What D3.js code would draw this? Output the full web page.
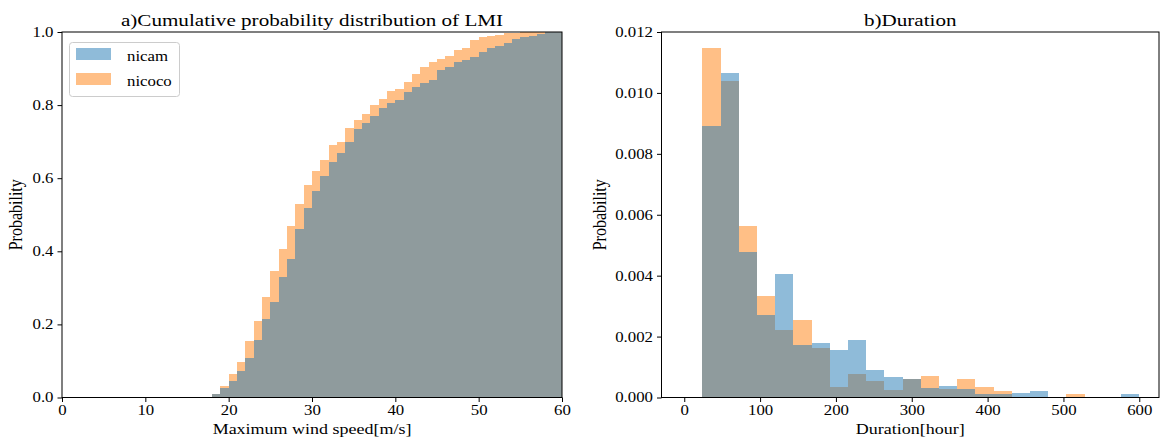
<!DOCTYPE html>
<html><head><meta charset="utf-8">
<script src="https://cdn.jsdelivr.net/npm/d3@7"></script>
<style>
body{margin:0;background:#fff}
text{font-family:"Liberation Serif","Times New Roman",serif;fill:#000}
</style>
</head><body>
<svg id="c" width="1161" height="441"></svg>
<script>
// ---------- data ----------
const lmiBinStart = [17,18,19,20,21,22,23,24,25,26,27,28,29,30,31,32,33,34,35,36,37,38,39,40,41,42,43,44,45,46,47,48,49,50,51,52,53,54,55,56,57,58,59];
const nicamCum  = [0.002,0.009,0.026,0.045,0.073,0.107,0.157,0.214,0.261,0.329,0.379,0.461,0.519,0.565,0.607,0.644,0.670,0.699,0.735,0.750,0.769,0.792,0.807,0.815,0.836,0.850,0.860,0.868,0.897,0.903,0.919,0.924,0.932,0.946,0.955,0.962,0.970,0.982,0.987,0.990,0.995,1.0,1.0];
const nicocoCum = [0.0,0.009,0.031,0.064,0.097,0.155,0.209,0.274,0.346,0.405,0.469,0.530,0.582,0.621,0.649,0.690,0.699,0.738,0.758,0.777,0.801,0.816,0.839,0.845,0.864,0.884,0.905,0.917,0.925,0.933,0.951,0.955,0.979,0.985,0.990,0.993,0.996,0.998,0.999,1.0,1.0,1.0,1.0];
const lmiBinWidth = 1;

const durBinStart = [24,48,72,96,120,144,168,192,216,240,264,288,312,336,360,384,408,432,456,480,504,528,552,576];
const nicamDur  = [0.00891,0.01065,0.00477,0.00272,0.00404,0.00171,0.00178,0.00155,0.00190,0.00090,0.00066,0.00061,0.00030,0.00038,0.00029,0.00010,0.00010,0.00016,0.00022,0,0,0,0,0.00010];
const nicocoDur = [0.01146,0.01038,0.00563,0.00332,0.00222,0.00256,0.00162,0.00035,0.00077,0.00053,0.00026,0.00061,0.00069,0.00029,0.00061,0.00036,0.00020,0,0,0,0.00010,0,0,0];
const durBinWidth = 24;

const seriesNames = ["nicam","nicoco"];
const seriesColors = ["#1f77b4","#ff7f0e"];
const leftTicksX = [0,10,20,30,40,50,60];
const leftTicksY = [0,0.2,0.4,0.6,0.8,1.0];
const rightTicksX = [0,100,200,300,400,500,600];
const rightTicksY = [0,0.002,0.004,0.006,0.008,0.010,0.012];

// ---------- drawing ----------
const SX = 1.2;           // horizontal text stretch seen in reference
const svg = d3.select("#c");
const yTop = 32, yBot = 397.5;

function stretchText(sel){
  sel.each(function(){
    const t = d3.select(this);
    const x = +t.attr("x") || 0, y = +t.attr("y") || 0;
    t.attr("x", null).attr("y", null)
     .attr("transform", `translate(${x},${y}) scale(${SX},1)`);
  });
}

function panel(opts){
  const g = svg.append("g");
  const x = d3.scaleLinear().domain(opts.xDomain).range([opts.x0, opts.x1]);
  const y = d3.scaleLinear().domain(opts.yDomain).range([yBot, yTop]);

  // bars: nicoco first, nicam on top (gray overlap)
  [1,0].forEach(si=>{
    const vals = opts.values[si];
    g.append("g").selectAll("rect")
      .data(opts.bins.map((b,i)=>({b, v: vals[i]})).filter(d=>d.v>0))
      .join("rect")
      .attr("x", d=>x(d.b))
      .attr("width", d=>x(d.b+opts.bw)-x(d.b))
      .attr("y", d=>y(d.v))
      .attr("height", d=>y(0)-y(d.v))
      .attr("fill", seriesColors[si])
      .attr("fill-opacity", 0.5)
      .attr("shape-rendering","crispEdges");
  });

  const ax = g.append("g").attr("transform",`translate(0,${yBot})`)
    .call(d3.axisBottom(x).tickValues(opts.xTicks).tickFormat(opts.xFmt).tickSizeOuter(0).tickSize(4.5).tickPadding(3.5));
  const ay = g.append("g").attr("transform",`translate(${opts.x0},0)`)
    .call(d3.axisLeft(y).tickValues(opts.yTicks).tickFormat(opts.yFmt).tickSizeOuter(0).tickSize(4.5).tickPadding(4));
  [ax,ay].forEach(a=>{
    a.select(".domain").remove();
    a.selectAll("line").attr("stroke","#000").attr("stroke-width",1);
    a.selectAll("text").attr("font-size",14).attr("font-family",'"Liberation Serif",serif').call(stretchText);
  });
  g.append("rect").attr("x",opts.x0).attr("y",yTop)
    .attr("width",opts.x1-opts.x0).attr("height",yBot-yTop)
    .attr("fill","none").attr("stroke","#000").attr("stroke-width",1);

  g.append("text").attr("text-anchor","middle").attr("font-size",16.5)
    .attr("transform",`translate(${(opts.x0+opts.x1)/2},26) scale(1.28,1)`)
    .text(opts.title);
  g.append("text").attr("x",(opts.x0+opts.x1)/2).attr("y",434)
    .attr("text-anchor","middle").attr("font-size",15)
    .text(opts.xLabel).call(stretchText);
  g.append("text")
    .attr("transform",`translate(${opts.yLabelX},${(yTop+yBot)/2}) scale(${SX},1) rotate(-90)`)
    .attr("text-anchor","middle").attr("font-size",16)
    .text("Probability");
  return {g,x,y};
}

panel({
  x0:62, x1:562, xDomain:[0,60], yDomain:[0,1],
  bins: lmiBinStart, bw: lmiBinWidth, values:[nicamCum,nicocoCum],
  xTicks:leftTicksX, yTicks:leftTicksY, xFmt:d3.format("d"), yFmt:d3.format(".1f"),
  title:"a)Cumulative probability distribution of LMI", xLabel:"Maximum wind speed[m/s]", yLabelX:22
});
panel({
  x0:661.5, x1:1159, xDomain:[-30,(1159-684.3)/0.7583], yDomain:[0,0.012],
  bins: durBinStart, bw: durBinWidth, values:[nicamDur,nicocoDur],
  xTicks:rightTicksX, yTicks:rightTicksY, xFmt:d3.format("d"), yFmt:d3.format(".3f"),
  title:"b)Duration", xLabel:"Duration[hour]", yLabelX:606
});

const lg = svg.append("g");
lg.append("rect").attr("x",69.5).attr("y",42.5).attr("width",110).attr("height",54).attr("rx",3)
  .attr("fill","#fff").attr("fill-opacity",0.8).attr("stroke","#ccc").attr("stroke-width",1);
seriesNames.forEach((n,i)=>{
  lg.append("rect").attr("x",76).attr("y",48+i*25).attr("width",35).attr("height",12)
    .attr("fill",seriesColors[i]).attr("fill-opacity",0.5);
  lg.append("text").attr("x",127).attr("y",61+i*25).attr("font-size",14).text(n).call(stretchText);
});
</script>
</body></html>
